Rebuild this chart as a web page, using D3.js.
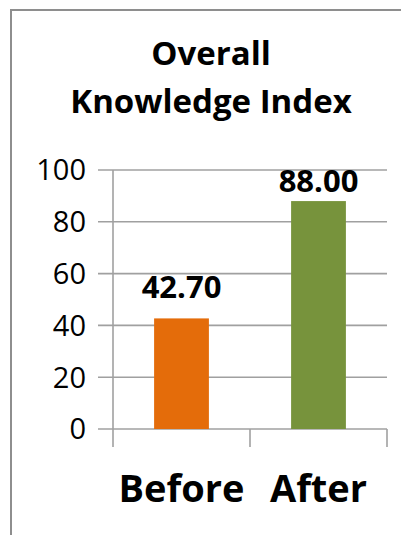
<!DOCTYPE html>
<html>
<head>
<meta charset="utf-8">
<script src="https://cdn.jsdelivr.net/npm/d3@7"></script>
<style>
  body { margin: 0; background: #fff; }
  svg { display: block; }
</style>
</head>
<body>
<div id="vis"></div>
<script>
// chart data
var categories = ['Before', 'After'];
var values = [42.70, 88.00];
var barColors = ['#E46C0A', '#77933C'];
var yTicks = [0, 20, 40, 60, 80, 100];
var titleLines = ['Overall', 'Knowledge Index'];

var width = 401;
var height = 535;
var fontFamily = '"Open Sans", "DejaVu Sans", sans-serif';
var lineColor = '#a0a0a0';

var plot = { left: 113, right: 387, top: 170, bottom: 429 };

var svg = d3.select('#vis').append('svg')
  .attr('width', width)
  .attr('height', height);

// outer frame (left and top edges only)
svg.append('path')
  .attr('d', 'M11,' + height + 'V10H' + width)
  .attr('fill', 'none')
  .attr('stroke', '#8e8e8e')
  .attr('stroke-width', 2);

// title
svg.append('g').selectAll('text')
  .data(titleLines)
  .enter().append('text')
  .attr('x', 211)
  .attr('y', function (d, i) { return 65 + i * 48; })
  .attr('text-anchor', 'middle')
  .style('font-family', fontFamily)
  .style('font-weight', 'bold')
  .style('font-size', '33px')
  .style('fill', '#000')
  .text(function (d) { return d; });

var y = d3.scaleLinear()
  .domain([0, 100])
  .range([plot.bottom, plot.top]);

var x = d3.scaleBand()
  .domain(categories)
  .range([plot.left, plot.right])
  .paddingInner(0.6)
  .paddingOuter(0.3);

// gridlines + left tick marks
var grid = svg.append('g');
grid.selectAll('line')
  .data(yTicks)
  .enter().append('line')
  .attr('x1', plot.left - 15)
  .attr('x2', plot.right)
  .attr('y1', function (d) { return y(d); })
  .attr('y2', function (d) { return y(d); })
  .attr('stroke', lineColor)
  .attr('stroke-width', 1.6);

grid.selectAll('text')
  .data(yTicks)
  .enter().append('text')
  .attr('x', plot.left - 27)
  .attr('y', function (d) { return y(d); })
  .attr('dy', '0.36em')
  .attr('text-anchor', 'end')
  .style('font-family', fontFamily)
  .style('font-size', '29px')
  .style('fill', '#000')
  .text(function (d) { return d; });

// vertical axis line
svg.append('line')
  .attr('x1', plot.left)
  .attr('x2', plot.left)
  .attr('y1', plot.top)
  .attr('y2', plot.bottom + 18)
  .attr('stroke', lineColor)
  .attr('stroke-width', 1.6);

// category boundary ticks below the x axis
var bounds = d3.range(categories.length + 1).map(function (i) {
  return plot.left + i * x.step();
});
svg.append('g').selectAll('line')
  .data(bounds.slice(1))
  .enter().append('line')
  .attr('x1', function (d) { return d; })
  .attr('x2', function (d) { return d; })
  .attr('y1', plot.bottom)
  .attr('y2', plot.bottom + 18)
  .attr('stroke', lineColor)
  .attr('stroke-width', 1.6);

// bars
var bars = svg.append('g');
bars.selectAll('rect')
  .data(values)
  .enter().append('rect')
  .attr('x', function (d, i) { return x(categories[i]); })
  .attr('width', x.bandwidth())
  .attr('y', function (d) { return y(d); })
  .attr('height', function (d) { return y(0) - y(d); })
  .attr('fill', function (d, i) { return barColors[i]; });

// value labels, kept inside the plot area like Excel does
bars.selectAll('text')
  .data(values)
  .enter().append('text')
  .attr('x', function (d, i) { return x(categories[i]) + x.bandwidth() / 2; })
  .attr('y', function (d) { return Math.max(y(d) - 20, plot.top + 22); })
  .attr('text-anchor', 'middle')
  .style('font-family', fontFamily)
  .style('font-weight', 'bold')
  .style('font-size', '31px')
  .style('fill', '#000')
  .text(function (d) { return d.toFixed(2); });

// category labels
svg.append('g').selectAll('text')
  .data(categories)
  .enter().append('text')
  .attr('x', function (d) { return x(d) + x.bandwidth() / 2; })
  .attr('y', 502)
  .attr('text-anchor', 'middle')
  .style('font-family', fontFamily)
  .style('font-weight', 'bold')
  .style('font-size', '38px')
  .style('fill', '#000')
  .text(function (d) { return d; });
</script>
</body>
</html>
